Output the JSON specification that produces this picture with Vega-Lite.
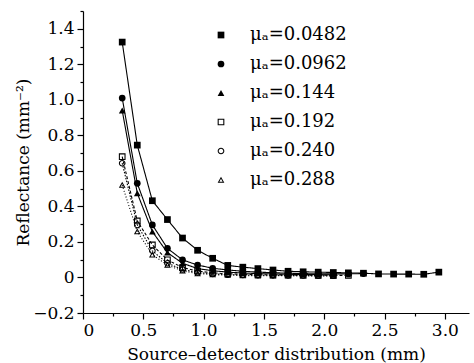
{
  "$schema": "https://vega.github.io/schema/vega-lite/v6.json",
  "width": 386,
  "height": 302,
  "autosize": {"type": "none"},
  "padding": {"left": 83, "top": 11, "right": 5, "bottom": 50},
  "background": "white",
  "config": {
    "view": {"stroke": null},
    "font": "DejaVu Serif",
    "axis": {
      "domainColor": "black",
      "domainWidth": 1.2,
      "tickColor": "black",
      "tickWidth": 1.2,
      "labelColor": "black",
      "titleColor": "black",
      "labelFont": "DejaVu Serif",
      "titleFont": "DejaVu Serif",
      "labelFontSize": 17,
      "titleFontSize": 17,
      "titleFontWeight": "normal",
      "grid": false,
      "labelPadding": 3
    },
    "legend": {
      "symbolSize": 45,
      "labelFont": "DejaVu Serif",
      "labelFontSize": 18,
      "labelColor": "black",
      "labelOffset": 20,
      "rowPadding": 11,
      "padding": 0
    }
  },
  "data": {
    "values": [
      {"x": 0.325, "y": 1.325, "mu": "0.0482"},
      {"x": 0.45, "y": 0.745, "mu": "0.0482"},
      {"x": 0.575, "y": 0.432, "mu": "0.0482"},
      {"x": 0.7, "y": 0.326, "mu": "0.0482"},
      {"x": 0.825, "y": 0.222, "mu": "0.0482"},
      {"x": 0.95, "y": 0.153, "mu": "0.0482"},
      {"x": 1.075, "y": 0.108, "mu": "0.0482"},
      {"x": 1.2, "y": 0.068, "mu": "0.0482"},
      {"x": 1.325, "y": 0.058, "mu": "0.0482"},
      {"x": 1.45, "y": 0.05, "mu": "0.0482"},
      {"x": 1.575, "y": 0.042, "mu": "0.0482"},
      {"x": 1.7, "y": 0.035, "mu": "0.0482"},
      {"x": 1.825, "y": 0.032, "mu": "0.0482"},
      {"x": 1.95, "y": 0.03, "mu": "0.0482"},
      {"x": 2.075, "y": 0.028, "mu": "0.0482"},
      {"x": 2.2, "y": 0.026, "mu": "0.0482"},
      {"x": 2.325, "y": 0.024, "mu": "0.0482"},
      {"x": 2.45, "y": 0.02, "mu": "0.0482"},
      {"x": 2.575, "y": 0.019, "mu": "0.0482"},
      {"x": 2.7, "y": 0.019, "mu": "0.0482"},
      {"x": 2.825, "y": 0.018, "mu": "0.0482"},
      {"x": 2.95, "y": 0.03, "mu": "0.0482"},
      {"x": 0.325, "y": 1.01, "mu": "0.0962"},
      {"x": 0.45, "y": 0.53, "mu": "0.0962"},
      {"x": 0.575, "y": 0.296, "mu": "0.0962"},
      {"x": 0.7, "y": 0.164, "mu": "0.0962"},
      {"x": 0.825, "y": 0.099, "mu": "0.0962"},
      {"x": 0.95, "y": 0.07, "mu": "0.0962"},
      {"x": 1.075, "y": 0.052, "mu": "0.0962"},
      {"x": 1.2, "y": 0.042, "mu": "0.0962"},
      {"x": 1.325, "y": 0.035, "mu": "0.0962"},
      {"x": 1.45, "y": 0.03, "mu": "0.0962"},
      {"x": 1.575, "y": 0.027, "mu": "0.0962"},
      {"x": 1.7, "y": 0.024, "mu": "0.0962"},
      {"x": 1.825, "y": 0.022, "mu": "0.0962"},
      {"x": 1.95, "y": 0.02, "mu": "0.0962"},
      {"x": 2.075, "y": 0.02, "mu": "0.0962"},
      {"x": 2.2, "y": 0.02, "mu": "0.0962"},
      {"x": 2.325, "y": 0.022, "mu": "0.0962"},
      {"x": 0.325, "y": 0.94, "mu": "0.144"},
      {"x": 0.45, "y": 0.474, "mu": "0.144"},
      {"x": 0.575, "y": 0.258, "mu": "0.144"},
      {"x": 0.7, "y": 0.14, "mu": "0.144"},
      {"x": 0.825, "y": 0.08, "mu": "0.144"},
      {"x": 0.95, "y": 0.05, "mu": "0.144"},
      {"x": 1.075, "y": 0.038, "mu": "0.144"},
      {"x": 1.2, "y": 0.03, "mu": "0.144"},
      {"x": 1.325, "y": 0.025, "mu": "0.144"},
      {"x": 1.45, "y": 0.022, "mu": "0.144"},
      {"x": 1.575, "y": 0.02, "mu": "0.144"},
      {"x": 1.7, "y": 0.018, "mu": "0.144"},
      {"x": 1.825, "y": 0.017, "mu": "0.144"},
      {"x": 1.95, "y": 0.016, "mu": "0.144"},
      {"x": 2.075, "y": 0.015, "mu": "0.144"},
      {"x": 0.325, "y": 0.68, "mu": "0.192"},
      {"x": 0.45, "y": 0.318, "mu": "0.192"},
      {"x": 0.575, "y": 0.183, "mu": "0.192"},
      {"x": 0.7, "y": 0.099, "mu": "0.192"},
      {"x": 0.825, "y": 0.056, "mu": "0.192"},
      {"x": 0.95, "y": 0.036, "mu": "0.192"},
      {"x": 1.075, "y": 0.026, "mu": "0.192"},
      {"x": 1.2, "y": 0.021, "mu": "0.192"},
      {"x": 1.325, "y": 0.018, "mu": "0.192"},
      {"x": 1.45, "y": 0.016, "mu": "0.192"},
      {"x": 1.575, "y": 0.015, "mu": "0.192"},
      {"x": 1.7, "y": 0.014, "mu": "0.192"},
      {"x": 1.825, "y": 0.013, "mu": "0.192"},
      {"x": 1.95, "y": 0.013, "mu": "0.192"},
      {"x": 2.075, "y": 0.012, "mu": "0.192"},
      {"x": 2.2, "y": 0.012, "mu": "0.192"},
      {"x": 0.325, "y": 0.643, "mu": "0.240"},
      {"x": 0.45, "y": 0.296, "mu": "0.240"},
      {"x": 0.575, "y": 0.15, "mu": "0.240"},
      {"x": 0.7, "y": 0.08, "mu": "0.240"},
      {"x": 0.825, "y": 0.045, "mu": "0.240"},
      {"x": 0.95, "y": 0.028, "mu": "0.240"},
      {"x": 1.075, "y": 0.02, "mu": "0.240"},
      {"x": 1.2, "y": 0.016, "mu": "0.240"},
      {"x": 1.325, "y": 0.014, "mu": "0.240"},
      {"x": 1.45, "y": 0.013, "mu": "0.240"},
      {"x": 1.575, "y": 0.012, "mu": "0.240"},
      {"x": 1.7, "y": 0.011, "mu": "0.240"},
      {"x": 1.825, "y": 0.011, "mu": "0.240"},
      {"x": 1.95, "y": 0.01, "mu": "0.240"},
      {"x": 2.075, "y": 0.01, "mu": "0.240"},
      {"x": 0.325, "y": 0.52, "mu": "0.288"},
      {"x": 0.45, "y": 0.258, "mu": "0.288"},
      {"x": 0.575, "y": 0.128, "mu": "0.288"},
      {"x": 0.7, "y": 0.07, "mu": "0.288"},
      {"x": 0.825, "y": 0.037, "mu": "0.288"},
      {"x": 0.95, "y": 0.022, "mu": "0.288"},
      {"x": 1.075, "y": 0.016, "mu": "0.288"},
      {"x": 1.2, "y": 0.013, "mu": "0.288"},
      {"x": 1.325, "y": 0.011, "mu": "0.288"},
      {"x": 1.45, "y": 0.01, "mu": "0.288"},
      {"x": 1.575, "y": 0.01, "mu": "0.288"},
      {"x": 1.7, "y": 0.009, "mu": "0.288"},
      {"x": 1.825, "y": 0.009, "mu": "0.288"},
      {"x": 1.95, "y": 0.008, "mu": "0.288"},
      {"x": 2.075, "y": 0.008, "mu": "0.288"}
    ]
  },
  "encoding": {
    "x": {
      "field": "x",
      "type": "quantitative",
      "scale": {"domain": [0, 3.2], "nice": false, "zero": false},
      "axis": {
        "title": "Source–detector distribution (mm)",
        "values": [0, 0.25, 0.5, 0.75, 1, 1.25, 1.5, 1.75, 2, 2.25, 2.5, 2.75, 3],
        "labelExpr": "datum.value % 0.5 != 0 ? '' : (datum.value == 0 ? '0' : format(datum.value, '.1f'))",
        "tickSize": {"condition": {"test": "datum.value % 0.5 != 0", "value": 3}, "value": 6},
        "labelOverlap": false,
        "titlePadding": 8
      }
    },
    "y": {
      "field": "y",
      "type": "quantitative",
      "scale": {"domain": [-0.2, 1.5], "nice": false, "zero": false},
      "axis": {
        "title": "Reflectance (mm⁻²)",
        "values": [-0.2, -0.1, 0, 0.1, 0.2, 0.3, 0.4, 0.5, 0.6, 0.7, 0.8, 0.9, 1, 1.1, 1.2, 1.3, 1.4, 1.5],
        "labelExpr": "round(datum.value * 10) % 2 != 0 ? '' : (datum.value == 0 ? '0' : format(datum.value, '.1f'))",
        "tickSize": {"condition": {"test": "round(datum.value * 10) % 2 != 0", "value": 3}, "value": 6},
        "labelOverlap": false,
        "titlePadding": 0
      }
    }
  },
  "layer": [
    {
      "mark": {"type": "line", "color": "black", "strokeWidth": 1.1},
      "encoding": {
        "detail": {"field": "mu"},
        "strokeDash": {
          "field": "mu",
          "type": "nominal",
          "scale": {
            "range": [[1, 0], [1, 0], [1, 0], [3, 2], [1.5, 1.5], [1, 2]]
          },
          "legend": null
        }
      }
    },
    {
      "mark": {"type": "point", "filled": true, "color": "black", "opacity": 1, "size": 45},
      "encoding": {
        "shape": {
          "field": "mu",
          "type": "nominal",
          "scale": {
            "domain": ["0.0482", "0.0962", "0.144", "0.192", "0.240", "0.288"],
            "range": [
              "square",
              "circle",
              "triangle-up",
              "M-1,-1H1V1H-1ZM-0.68,-0.68V0.68H0.68V-0.68Z",
              "M-1,0A1,1 0 1,1 1,0A1,1 0 1,1 -1,0ZM-0.68,0A0.68,0.68 0 1,0 0.68,0A0.68,0.68 0 1,0 -0.68,0Z",
              "M0,-1L1,0.8H-1ZM0,-0.38L-0.49,0.5H0.49Z"
            ]
          },
          "legend": {
            "title": null,
            "orient": "none",
            "legendX": 129,
            "legendY": 15,
            "labelExpr": "'μₐ=' + datum.label"
          }
        }
      }
    }
  ]
}
